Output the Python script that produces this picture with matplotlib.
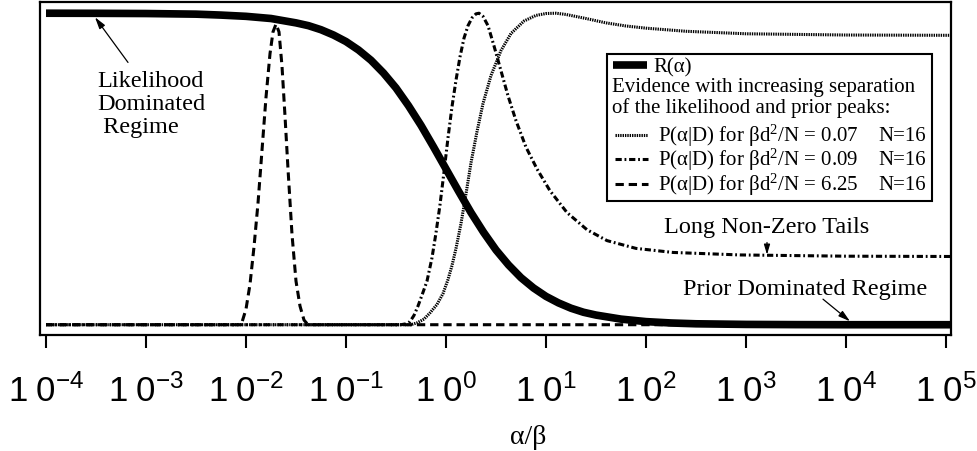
import numpy as np
import matplotlib
matplotlib.use('Agg')
import matplotlib.pyplot as plt
from matplotlib.patches import Rectangle
from matplotlib.ticker import FixedLocator, FixedFormatter, NullLocator

plt.rcParams['font.family'] = ['Liberation Serif', 'DejaVu Serif']
plt.rcParams['mathtext.fontset'] = 'custom'
plt.rcParams['mathtext.rm'] = 'Liberation Serif'
plt.rcParams['mathtext.it'] = 'Liberation Serif:italic'
plt.rcParams['mathtext.sf'] = 'Liberation Sans'
plt.rcParams['mathtext.default'] = 'regular'
plt.rcParams['lines.scale_dashes'] = False

# curves: x given as log10(alpha/beta), y normalised
r_logx = [-4.0, -3.5, -3.0, -2.5, -2.25, -2.0, -1.75, -1.5, -1.375, -1.25, -1.125,
          -1.0, -0.875, -0.75, -0.625, -0.5, -0.375, -0.25, -0.125, 0.0, 0.125,
          0.25, 0.375, 0.5, 0.625, 0.75, 0.875, 1.0, 1.125, 1.25, 1.375, 1.5,
          1.75, 2.0, 2.25, 2.5, 3.0, 3.5, 4.0, 5.1]
r_vals = [1.0, 0.9997, 0.999, 0.997, 0.994, 0.99, 0.983, 0.969, 0.96, 0.947, 0.93,
          0.909, 0.882, 0.849, 0.808, 0.76, 0.703, 0.64, 0.571, 0.5, 0.429,
          0.36, 0.297, 0.24, 0.192, 0.151, 0.118, 0.091, 0.07, 0.053, 0.04, 0.031,
          0.018, 0.01, 0.0056, 0.003, 0.001, 0.0003, 0.0, 0.0]

p07_logx = [-4.0, -0.35, -0.29, -0.22, -0.16, -0.09, -0.03, 0.02, 0.06, 0.10, 0.15,
            0.20, 0.25, 0.31, 0.37, 0.45, 0.55, 0.65, 0.78, 0.90, 1.0, 1.1, 1.2,
            1.4, 1.6, 1.8, 2.0, 2.4, 3.0, 4.0, 5.1]
p07_vals = [0.0, 0.0, 0.006, 0.018, 0.038, 0.065, 0.10, 0.145, 0.19, 0.245, 0.325,
            0.42, 0.52, 0.62, 0.71, 0.80, 0.88, 0.935, 0.975, 0.993, 0.999, 1.0, 0.996,
            0.983, 0.969, 0.959, 0.952, 0.942, 0.934, 0.93, 0.929]

p09_logx = [-4.0, -0.45, -0.40, -0.36, -0.32, -0.28, -0.24, -0.19, -0.14, -0.10, -0.06,
            -0.02, 0.02, 0.06, 0.10, 0.14, 0.18, 0.22, 0.26, 0.30, 0.33, 0.37, 0.42,
            0.48, 0.55, 0.62, 0.70, 0.80, 0.91, 1.04, 1.21, 1.41, 1.61, 1.9, 2.27,
            2.94, 4.0, 5.1]
p09_vals = [0.0, 0.0, 0.003, 0.01, 0.03, 0.06, 0.095, 0.14, 0.215, 0.295, 0.385,
            0.49, 0.60, 0.70, 0.785, 0.86, 0.92, 0.96, 0.985, 0.998, 1.0, 0.99, 0.96,
            0.895, 0.815, 0.735, 0.655, 0.57, 0.50, 0.43, 0.36, 0.305, 0.27, 0.245, 0.232,
            0.224, 0.22, 0.219]

p625_logx = [-4.0, -2.08, -2.04, -2.0, -1.96, -1.92, -1.88, -1.84, -1.80, -1.76, -1.73,
             -1.70, -1.67, -1.64, -1.61, -1.58, -1.54, -1.50, -1.46, -1.42, -1.38, 5.1]
p625_vals = [0.0, 0.0, 0.008, 0.05, 0.13, 0.25, 0.39, 0.56, 0.73, 0.87, 0.94,
             0.965, 0.94, 0.83, 0.67, 0.50, 0.29, 0.14, 0.06, 0.015, 0.0, 0.0]

tick_exp = [-4, -3, -2, -1, 0, 1, 2, 3, 4, 5]
legend_labels = ['P(α|D) for βd$^2$/N = 0.07',
                 'P(α|D) for βd$^2$/N = 0.09',
                 'P(α|D) for βd$^2$/N = 6.25']

fig = plt.figure(figsize=(9.77, 4.52), dpi=100)
ax = fig.add_axes([40 / 977, 1 - 336 / 452, 911 / 977, 333 / 452])

def ax_xy(px, py):
    # pixel position in the picture -> axes fraction
    return ((px - 40) / 911, (336 - py) / 333)

lx = lambda v: 10.0 ** np.array(v)

ax.plot(lx(p625_logx), p625_vals, color='black', lw=2.2, dashes=(6, 3.5), zorder=2)
ax.plot(lx(p07_logx), p07_vals, color='black', lw=2.2, dashes=(1.0, 0.7), zorder=2)
ax.plot(lx(p09_logx), p09_vals, color='black', lw=2.2, dashes=(4.5, 2, 1.3, 2), zorder=2)
ax.plot(lx(r_logx), r_vals, color='black', lw=5.5, solid_capstyle='butt', zorder=3)

ax.set_xscale('log')
ax.set_xlim(10 ** -4.06, 10 ** 5.05)
ax.set_ylim(-0.033, 1.036)
ax.xaxis.set_major_locator(FixedLocator([10.0 ** e for e in tick_exp]))
ax.xaxis.set_major_formatter(FixedFormatter([r'$\mathsf{1\ 0^{%d}}$' % e for e in tick_exp]))
ax.xaxis.set_minor_locator(NullLocator())
ax.yaxis.set_major_locator(NullLocator())
ax.tick_params(axis='x', direction='out', length=9, width=1.5, pad=19, labelsize=25)
for s in ax.spines.values():
    s.set_linewidth(1.6)

ax.set_xlabel('α/β', fontsize=20)
ax.xaxis.set_label_coords(0.536, -0.268)

# annotations
ax.text(10 ** -3.49, 0.618, 'Likelihood\nDominated\n Regime', ha='left', va='baseline',
        fontsize=17.5, linespacing=1.12)
ax.annotate('', xy=(10 ** -3.51, 0.987), xytext=(10 ** -3.18, 0.842),
            arrowprops=dict(arrowstyle='-|>,head_length=0.7,head_width=0.2',
                            lw=0.9, color='black', shrinkA=0, shrinkB=0))
ax.text(10 ** 3.21, 0.299, 'Long Non-Zero Tails', ha='center', va='baseline', fontsize=17.5)
ax.annotate('', xy=(10 ** 3.21, 0.225), xytext=(10 ** 3.21, 0.264),
            arrowprops=dict(arrowstyle='-|>,head_length=0.6,head_width=0.18',
                            lw=0.9, color='black', shrinkA=0, shrinkB=0))
ax.text(10 ** 3.59, 0.098, 'Prior Dominated Regime', ha='center', va='baseline', fontsize=17.5)
ax.annotate('', xy=(10 ** 4.04, 0.011), xytext=(10 ** 3.77, 0.082),
            arrowprops=dict(arrowstyle='-|>,head_length=0.7,head_width=0.2',
                            lw=0.9, color='black', shrinkA=0, shrinkB=0))

# legend box drawn by hand
x0, y0 = ax_xy(607, 202)
ax.add_patch(Rectangle((x0, y0), (932 - 607) / 911, (202 - 55) / 333, transform=ax.transAxes,
                       facecolor='white', edgecolor='black', lw=1.5, zorder=5))
ax.plot(*zip(ax_xy(613, 66), ax_xy(647, 66)), transform=ax.transAxes, color='black',
        lw=5.5, solid_capstyle='butt', zorder=6)
ax.text(*ax_xy(653, 68), 'R(α)', transform=ax.transAxes, ha='left', va='center',
        fontsize=15, zorder=6)
ax.text(*ax_xy(612, 87), 'Evidence with increasing separation', transform=ax.transAxes,
        ha='left', va='center', fontsize=15, zorder=6)
ax.text(*ax_xy(612, 108), 'of the likelihood and prior peaks:', transform=ax.transAxes,
        ha='left', va='center', fontsize=15, zorder=6)
styles = [(1.0, 0.7), (4.5, 2, 1.3, 2), (6, 3.5)]
rows_y = [136, 160, 185]
for lab, ds, ry in zip(legend_labels, styles, rows_y):
    ax.plot(*zip(ax_xy(615, ry), ax_xy(648, ry)), transform=ax.transAxes, color='black',
            lw=2.2, dashes=ds, zorder=6)
    ax.text(*ax_xy(658, ry), lab, transform=ax.transAxes, ha='left', va='center',
            fontsize=15, zorder=6)
    ax.text(*ax_xy(926, ry), 'N=16', transform=ax.transAxes, ha='right', va='center',
            fontsize=15, zorder=6)

fig.savefig('out.png', dpi=100)
